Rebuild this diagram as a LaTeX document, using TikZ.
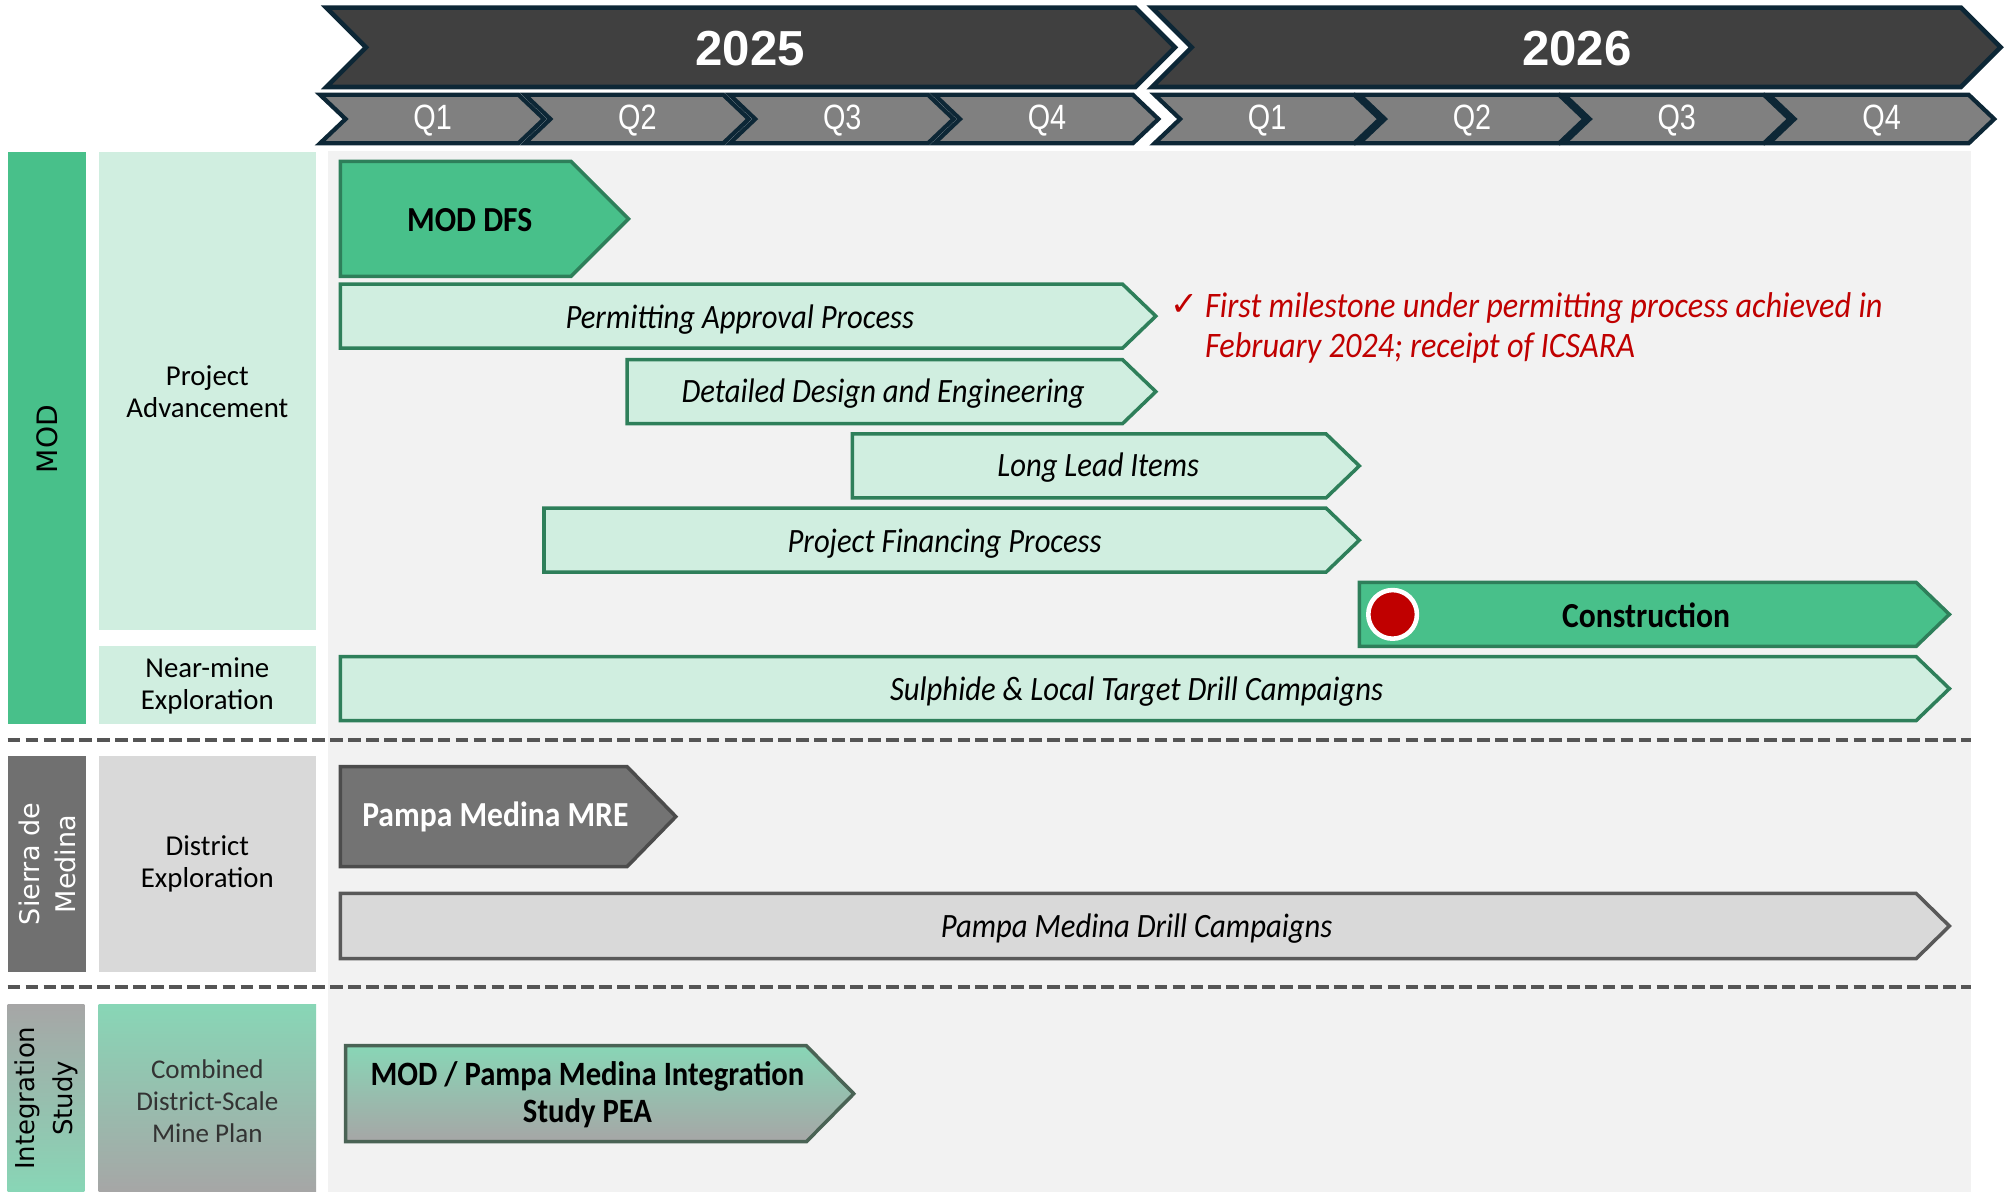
\documentclass[tikz,border=0pt]{standalone}
\usepackage{fontspec}
\setmainfont{Carlito}
\newfontfamily\hdrfont{Liberation Sans}
\newfontfamily\hdrnarrow[FakeStretch=0.82]{Liberation Sans}
\newfontfamily\widefont{DejaVu Sans}
\newfontfamily\narrowfont[FakeStretch=0.9]{Carlito}
\definecolor{gmain}{HTML}{48C08A}
\definecolor{glight}{HTML}{D0EEE0}
\definecolor{gborder}{HTML}{2E7F5A}
\definecolor{panelgray}{HTML}{F2F2F2}
\definecolor{navyline}{HTML}{0D2736}
\definecolor{yearfill}{HTML}{404040}
\definecolor{qfill}{HTML}{808080}
\definecolor{sierrafill}{HTML}{707070}
\definecolor{lgray}{HTML}{D9D9D9}
\definecolor{mrefill}{HTML}{737373}
\definecolor{dgray}{HTML}{595959}
\definecolor{intgreen}{HTML}{88D6B6}
\definecolor{intgray}{HTML}{A6A6A6}
\definecolor{redc}{HTML}{C00000}
\definecolor{dashgray}{HTML}{555555}
\definecolor{peaborder}{HTML}{4A6355}
% chevron: style, x0, x1, y0, y1, depth
\newcommand\chevshape[6]{\draw[#1] (#2,#4) -- ({#3-#6},#4) -- (#3,{(#4+#5)/2}) -- ({#3-#6},#5) -- (#2,#5) -- ({#2+#6},{(#4+#5)/2}) -- cycle;}
% pentagon arrow: style, x0, x1, y0, y1, depth
\newcommand\taskshape[6]{\draw[#1] (#2,#4) -- ({#3-#6},#4) -- (#3,{(#4+#5)/2}) -- ({#3-#6},#5) -- (#2,#5) -- cycle;}
\tikzset{
  yearchev/.style={fill=yearfill, draw=navyline, line width=1.3pt, line join=miter},
  qchev/.style={fill=qfill, draw=navyline, line width=1.2pt, line join=miter},
  yeartxt/.style={font=\hdrfont\bfseries\fontsize{14}{16}\selectfont, text=white, inner sep=0},
  qtxt/.style={font=\hdrnarrow\fontsize{10}{12}\selectfont, text=white, inner sep=0},
  lightbox/.style={fill=glight, draw=gborder, line width=1pt},
  darkbox/.style={fill=gmain, draw=gborder, line width=1pt},
  tasktxt/.style={font=\narrowfont\itshape\fontsize{9.7}{11}\selectfont, text=black, inner sep=0},
  boldtxt/.style={font=\narrowfont\bfseries\fontsize{10}{10.6}\selectfont, inner sep=0, align=center},
  sidetxt/.style={font=\fontsize{8.2}{9.1}\selectfont, align=center, inner sep=0},
  vtxt/.style={font=\widefont\fontsize{8}{10.2}\selectfont, rotate=90, align=center, inner sep=0},
  sepline/.style={draw=dashgray, line width=1.1pt, dash pattern=on 3.6pt off 1.5pt},
  annot/.style={font=\narrowfont\itshape\fontsize{10.2}{11.3}\selectfont, text=redc, inner sep=0, anchor=base west}
}
\begin{document}
\begin{tikzpicture}[x=0.0128cm, y=-0.0128cm]
\useasboundingbox (0,0) rectangle (1568,931);
\fill[white] (0,0) rectangle (1568,931);
% header
\chevshape{yearchev}{255}{918}{6}{68}{31}
\chevshape{yearchev}{900}{1563}{6}{68}{31}
\node[yeartxt] (y2025) at (586,38) {2025};
\node[yeartxt] (y2026) at (1232,38) {2026};
\foreach \k in {0,1,2,3}{
  \chevshape{qchev}{250+160*\k}{425+160*\k}{74}{112}{20}
  \chevshape{qchev}{902+160*\k}{1078+160*\k}{74}{112}{20}
}
\foreach \k/\q in {0/1,1/2,2/3,3/4}{
  \node[qtxt] (qa\q) at (338+160*\k,94) {Q\q};
  \node[qtxt] (qb\q) at (990+160*\k,94) {Q\q};
}
% panel
\fill[panelgray] (256,118) rectangle (1540,931);
% left column
\fill[gmain] (6,119) rectangle (67,566);
\fill[glight] (77,119) rectangle (247,492);
\fill[glight] (77,505) rectangle (247,566);
\fill[sierrafill] (6,591) rectangle (67,759);
\fill[lgray] (77,591) rectangle (247,759);
\shade[top color=intgray, bottom color=intgreen] (6,785) rectangle (66,931);
\shade[top color=intgreen, bottom color=intgray] (77,785) rectangle (247,931);
\node[vtxt] (lmod) at (37,343) {MOD};
\node[sidetxt] (lpa) at (162,306) {Project\\Advancement};
\node[sidetxt] (lnm) at (162,536) {Near-mine\\Exploration};
\node[vtxt, text=white, font=\widefont\fontsize{7.7}{10.2}\selectfont] (lsm) at (37,675) {Sierra de\\Medina};
\node[sidetxt] (lde) at (162,675) {District\\Exploration};
\node[vtxt, font=\widefont\fontsize{7.4}{10.9}\selectfont] (lis) at (36,858) {Integration\\Study};
\node[sidetxt, text=black!80, font=\fontsize{7.7}{9.1}\selectfont] (lcd) at (162,860) {Combined\\District-Scale\\Mine Plan};
% separators
\draw[sepline] (6,578) -- (1540,578);
\draw[sepline] (6,771) -- (1540,771);
% tasks
\taskshape{darkbox}{266}{491}{126}{216}{45}
\node[boldtxt] (tdfs) at (367,172) {MOD DFS};
\taskshape{lightbox}{266}{903}{222}{272}{26}
\node[tasktxt] (tperm) at (578,249.5) {Permitting Approval Process};
\taskshape{lightbox}{490}{903}{281}{331}{26}
\node[tasktxt] (tdde) at (690,307.5) {Detailed Design and Engineering};
\taskshape{lightbox}{666}{1062}{339}{389}{26}
\node[tasktxt] (tlli) at (858,365.5) {Long Lead Items};
\taskshape{lightbox}{425}{1062}{397}{447}{26}
\node[tasktxt] (tpfp) at (738,424.5) {Project Financing Process};
\taskshape{darkbox}{1062}{1523}{455}{505}{26}
\draw[fill=redc, draw=white, line width=1.3pt] (1088,480) circle (19);
\node[boldtxt] (tcon) at (1286,481) {Construction};
\taskshape{lightbox}{266}{1523}{513}{563}{26}
\node[tasktxt] (tsul) at (888,540.5) {Sulphide \& Local Target Drill Campaigns};
\taskshape{fill=mrefill, draw=dgray!85!black, line width=1pt}{266}{528}{599}{677}{38}
\node[boldtxt, text=white] (tmre) at (387,638) {Pampa Medina MRE};
\taskshape{fill=lgray, draw=dgray, line width=1pt}{266}{1523}{698}{749}{26}
\node[tasktxt] (tpdc) at (888,725.5) {Pampa Medina Drill Campaigns};
\shade[top color=intgreen, bottom color=intgray] (270,817) -- (630,817) -- (667,854.5) -- (630,892) -- (270,892) -- cycle;
\taskshape{draw=peaborder, line width=1pt}{270}{667}{817}{892}{37}
\node[boldtxt, font=\narrowfont\bfseries\fontsize{9.7}{10.6}\selectfont] (tpea) at (459,855) {MOD / Pampa Medina Integration\\Study PEA};
% annotation
\node[font=\widefont\fontsize{9.5}{10}\selectfont, text=redc, inner sep=0] (chk) at (925,238) {✓};
\node[annot] (ann1) at (941,248) {First milestone under permitting process achieved in};
\node[annot] (ann2) at (941,279) {February 2024; receipt of ICSARA};
\end{tikzpicture}
\end{document}
